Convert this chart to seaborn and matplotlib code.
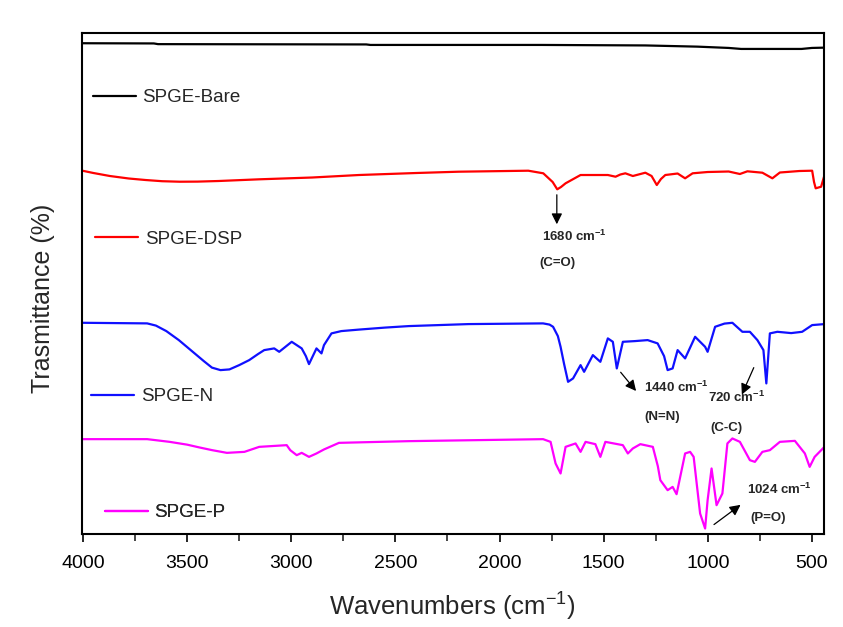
import numpy as np
import matplotlib
matplotlib.use('Agg')
import matplotlib.pyplot as plt
import seaborn as sns

sns.set_style('ticks')
plt.rcParams['font.family'] = ['Liberation Sans', 'DejaVu Sans']
plt.rcParams['mathtext.fontset'] = 'custom'
plt.rcParams['mathtext.rm'] = 'Liberation Sans'
plt.rcParams['mathtext.bf'] = 'Liberation Sans:bold'

# FTIR spectra (wavenumber in cm-1, stacked transmittance in arbitrary units)
bare_wn = [4003, 3660, 3640, 2640, 2620, 1800, 1300, 1050, 900, 840, 700, 550, 500, 440]
bare_t = [490.7, 490.5, 489.8, 489.5, 489.0, 489.0, 488.5, 487.3, 486.0, 485.0, 485.0, 485.0, 486.0, 486.3]

dsp_wn = [4003, 3950, 3871, 3780, 3700, 3620, 3536, 3450, 3350, 3154, 2900, 2675, 2400, 2197, 1862, 1790,
          1745, 1723, 1705, 1683, 1611, 1480, 1443, 1420, 1396, 1360, 1300, 1270, 1245, 1225, 1204, 1145,
          1109, 1073, 1001, 900, 846, 810, 738, 690, 654, 560, 499, 490, 482, 456, 435]
dsp_t = [363.3, 361.0, 358.0, 355.5, 354.0, 352.8, 352.3, 352.4, 353.0, 354.7, 356.5, 359.0, 361.0, 362.3, 363.3, 360.7,
         352.0, 344.7, 347.0, 350.7, 359.0, 359.0, 357.3, 359.5, 360.7, 358.0, 361.3, 358.0, 349.0, 355.0, 359.0, 360.5,
         355.7, 360.7, 362.0, 362.5, 360.0, 362.7, 361.3, 355.7, 361.5, 363.0, 363.3, 352.0, 345.7, 347.3, 362.3]

n_wn = [4003, 3692, 3650, 3600, 3540, 3480, 3420, 3381, 3340, 3297, 3250, 3202, 3160, 3130, 3082, 3058,
        2998, 2950, 2930, 2915, 2879, 2855, 2843, 2807, 2760, 2675, 2550, 2436, 2149, 1791, 1760, 1743,
        1720, 1707, 1690, 1671, 1647, 1611, 1594, 1552, 1516, 1480, 1456, 1437, 1408, 1350, 1289, 1241,
        1210, 1193, 1169, 1145, 1109, 1061, 1013, 1001, 965, 920, 882, 834, 798, 762, 733, 719, 702, 666,
        600, 547, 499, 440]
n_t = [211.3, 210.7, 208.5, 203.0, 194.0, 183.5, 173.0, 166.5, 164.0, 164.7, 169.0, 174.0, 180.0, 184.0, 185.7, 182.3,
       192.3, 185.7, 178.0, 170.0, 185.7, 180.7, 189.0, 200.7, 203.0, 204.5, 206.5, 208.0, 210.0, 210.7, 209.5, 207.3,
       198.0, 187.3, 170.0, 152.3, 155.7, 169.0, 162.3, 179.0, 172.3, 195.7, 192.3, 165.7, 192.3, 193.0, 194.0, 190.7,
       178.0, 164.0, 165.7, 184.0, 175.7, 197.3, 187.3, 182.3, 207.3, 210.5, 211.3, 202.3, 202.3, 194.0, 184.0, 150.7,
       200.7, 202.3, 201.0, 202.3, 209.0, 210.0]

p_wn = [4003, 3692, 3584, 3500, 3441, 3380, 3309, 3225, 3154, 3022, 3005, 2974, 2950, 2915, 2879, 2843,
        2771, 2436, 1791, 1755, 1731, 1707, 1683, 1635, 1611, 1587, 1540, 1516, 1492, 1408, 1384, 1360,
        1324, 1264, 1240, 1228, 1193, 1169, 1150, 1109, 1085, 1068, 1037, 1013, 1001, 982, 958, 930, 906,
        882, 846, 798, 774, 738, 702, 654, 582, 534, 511, 487, 440]
p_t = [95.0, 95.0, 92.3, 89.5, 86.7, 84.0, 81.3, 82.3, 87.3, 89.0, 84.0, 79.0, 81.3, 77.3, 80.7, 84.7,
       91.3, 93.0, 95.0, 92.3, 70.7, 60.7, 87.3, 90.7, 82.3, 92.3, 90.0, 77.3, 92.3, 89.0, 80.7, 85.7,
       90.0, 87.3, 68.0, 54.0, 44.0, 47.3, 40.0, 80.7, 82.3, 77.3, 20.7, 5.7, 34.0, 65.7, 29.0, 40.7, 90.7,
       95.7, 92.3, 74.0, 72.3, 82.3, 84.0, 92.3, 93.3, 80.7, 67.3, 77.3, 87.3]

names = ['SPGE-Bare', 'SPGE-DSP', 'SPGE-N', 'SPGE-P']
colors = ['black', '#ff0000', '#1010ff', '#ff00ff']

fig = plt.figure(figsize=(8.43, 6.27), dpi=100)
ax = fig.add_axes([0.097, 0.148, 0.880, 0.799])

series = [(bare_wn, bare_t), (dsp_wn, dsp_t), (n_wn, n_t), (p_wn, p_t)]
for (wn, t), c in zip(series, colors):
    sns.lineplot(x=wn, y=t, color=c, lw=1.6, ax=ax, legend=False, sort=False)

# one legend entry placed next to each curve
legend_pos = [(0.015, 0.871), (0.018, 0.589), (0.0125, 0.274), (0.031, 0.0425)]
for line, name, pos in zip(ax.lines, names, legend_pos):
    leg = ax.legend([line], [name], loc='center left', bbox_to_anchor=pos,
                    frameon=False, fontsize=13.5, handlelength=2.3, handletextpad=0.35,
                    borderpad=0, borderaxespad=0)
    ax.add_artist(leg)

# peak annotations
arrows = [((1725, 342), (1725, 307)), ((1427, 164), (1336, 141)),
          ((774, 169), (842, 137)), ((981, 8), (832, 31))]
for start, end in arrows:
    ax.annotate('', xy=end, xytext=start,
                arrowprops=dict(arrowstyle='-|>', color='black', lw=0.9, mutation_scale=16))

labels = [(1643, 298, r'1680 cm$^{\mathbf{-1}}$'), (1720, 271, '(C=O)'),
          (1150, 147, r'1440 cm$^{\mathbf{-1}}$'), (1221, 117, '(N=N)'),
          (862, 137, r'720 cm$^{\mathbf{-1}}$'), (909, 106, '(C-C)'),
          (655, 45, r'1024 cm$^{\mathbf{-1}}$'), (712, 16, '(P=O)')]
for x, y, s in labels:
    ax.text(x, y, s, ha='center', va='center', fontsize=9.5, fontweight='bold')

ax.set_xlim(4006, 444)
ax.set_ylim(0, 500.7)
ax.set_xticks(np.arange(500, 4001, 500))
ax.set_xticks(np.arange(750, 4000, 500), minor=True)
ax.set_yticks([])
ax.tick_params(axis='x', which='major', direction='out', length=6, width=1.2, labelsize=14, pad=9, colors='black')
ax.tick_params(axis='x', which='minor', direction='out', length=5, width=1.2)
for sp in ax.spines.values():
    sp.set_visible(True)
    sp.set_linewidth(1.5)
    sp.set_color('black')

ax.set_xlabel('Wavenumbers (cm$^{-1}$)', fontsize=18.5, labelpad=12)
ax.set_ylabel('Trasmittance (%)', fontsize=18)
ax.yaxis.set_label_coords(-0.036, 0.471)

fig.savefig('out.png', dpi=100, facecolor='white')
